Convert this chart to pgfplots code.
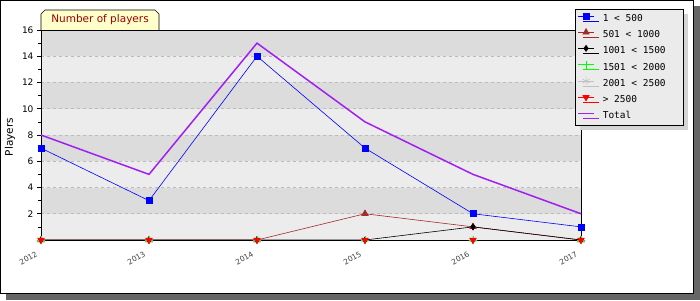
\documentclass[border=0pt]{standalone}
\usepackage{pgfplots}
\pgfplotsset{compat=1.18}
\usepackage{pgfplotstable}
\usepackage{fontspec}
\setmainfont{DejaVu Sans}
\newfontfamily\monofont{DejaVu Sans Mono}
\usetikzlibrary{shadows}

\definecolor{banddark}{HTML}{DCDCDC}
\definecolor{bandlight}{HTML}{ECECEC}
\definecolor{gridgray}{HTML}{BBBBBB}
\definecolor{tabyellow}{HTML}{FFFFCC}
\definecolor{titlered}{HTML}{990000}
\definecolor{sbrown}{HTML}{A52A2A}
\definecolor{sgreen}{HTML}{00FF00}
\definecolor{sgray}{HTML}{C0C0C0}
\definecolor{spurple}{HTML}{A020F0}
\definecolor{legbg}{HTML}{EBEBEB}
\definecolor{framesh}{HTML}{666666}
\definecolor{legsh}{HTML}{D4D4D4}

\pgfplotstableread{
year a b c d e f total
2012 7 0 0 0 0 0 8
2013 3 0 0 0 0 0 5
2014 14 0 0 0 0 0 15
2015 7 2 0 0 0 0 9
2016 2 1 1 0 0 0 5
2017 1 0 0 0 0 0 2
}\datatab

\begin{document}
\begin{tikzpicture}[x=1pt,y=1pt]
% outer frame with shadow
\fill[framesh] (6,0) rectangle (700,294);
\filldraw[fill=white,draw=black,line width=1pt] (0.5,7) rectangle (693,299.5);
% background bands of the plot area (41..581 x 60..270, 13.125 per unit)
\fill[bandlight] (41,60) rectangle (581,270);
\fill[banddark] (41,86.25) rectangle (581,112.5);
\fill[banddark] (41,138.75) rectangle (581,165);
\fill[banddark] (41,191.25) rectangle (581,217.5);
\fill[banddark] (41,243.75) rectangle (581,270);

\begin{axis}[
  at={(41pt,60pt)}, anchor=south west,
  scale only axis, width=540pt, height=210pt,
  xmin=2012, xmax=2017, ymin=0, ymax=16,
  xtick={2012,2013,2014,2015,2016,2017},
  ytick={2,4,...,16}, minor ytick={1,3,...,15},
  xtick pos=bottom, ytick pos=left,
  /pgf/number format/1000 sep={},
  /pgf/number format/assume math mode=true,
  xticklabel style={rotate=30, anchor=east, font=\fontsize{7.5}{9}\selectfont, text=black!75, yshift=-6pt, xshift=-5pt},
  yticklabel style={font=\fontsize{9}{10}\selectfont},
  ymajorgrids,
  major grid style={dashed, gridgray, line width=0.6pt},
  axis line style={black, line width=0.8pt},
  tick style={black, line width=0.6pt},
  tick align=outside, major tick length=4pt, minor tick length=3pt,
  ylabel={Players},
  ylabel style={at={(axis description cs:-0.0574,0.49)}, anchor=center, font=\fontsize{10.5}{12}\selectfont},
  clip mode=individual,
  legend image code/.code={
    \draw[#1, mark=none] (0pt,2.5pt) -- (16pt,2.5pt);
    \draw[#1] plot coordinates {(8pt,2.5pt)};
  },
  legend style={
    at={(0.98889,1.1)}, anchor=north west,
    fill=legbg, draw=black, line width=0.6pt,
    font=\monofont\fontsize{9.5}{11}\selectfont,
    row sep=3.6pt, inner xsep=2pt, inner ysep=3pt,
    /tikz/every odd column/.append style={column sep=6pt},
    drop shadow={shadow xshift=5pt, shadow yshift=-5pt, fill=legsh, opacity=1},
    legend cell align=left,
  },
]
\addplot[blue, line width=0.6pt, mark=square*, mark size=3pt, mark options={solid, fill=blue}] table[x=year,y=a] {\datatab};
\addlegendentry{\makebox[76pt][l]{1 < 500}}
\addplot[sbrown, line width=0.6pt, mark=triangle*, mark size=3.6pt, mark options={solid, fill=sbrown}] table[x=year,y=b] {\datatab};
\addlegendentry{501 < 1000}
\addplot[black, line width=0.6pt, mark=diamond*, mark size=3pt, mark options={solid, fill=black}] table[x=year,y=c] {\datatab};
\addlegendentry{1001 < 1500}
\addplot[sgreen, line width=0.6pt, mark=+, mark size=4pt, mark options={solid}] table[x=year,y=d] {\datatab};
\addlegendentry{1501 < 2000}
\addplot[sgray, line width=0.6pt, mark=asterisk, mark size=4pt, mark options={solid}] table[x=year,y=e] {\datatab};
\addlegendentry{2001 < 2500}
\addplot[red, line width=0.6pt, mark=triangle*, mark size=3.6pt, mark options={solid, fill=red, rotate=180}] table[x=year,y=f] {\datatab};
\addlegendentry{> 2500}
\addplot[spurple, line width=1.5pt, no marks] table[x=year,y=total] {\datatab};
\addlegendentry{Total}

% bottom axis line back over the zero-valued segments
\draw[black, line width=0.8pt] (axis cs:2012,0) -- (axis cs:2017,0);

% markers again on top of the axis line
\addplot[forget plot, only marks, sbrown, mark=triangle*, mark size=3.6pt, mark options={fill=sbrown}] table[x=year,y=b] {\datatab};
\addplot[forget plot, only marks, black, mark=diamond*, mark size=3pt, mark options={fill=black}] table[x=year,y=c] {\datatab};
\addplot[forget plot, only marks, sgreen, mark=+, mark size=4pt] table[x=year,y=d] {\datatab};
\addplot[forget plot, only marks, sgray, mark=asterisk, mark size=4pt] table[x=year,y=e] {\datatab};
\addplot[forget plot, only marks, red, mark=triangle*, mark size=3.6pt, mark options={fill=red, rotate=180}] table[x=year,y=f] {\datatab};
\end{axis}

% title tab
\filldraw[fill=tabyellow, draw=black, line width=0.6pt] (41,270) -- (41,286) -- (45,290) -- (155,290) -- (159,286) -- (159,270);
\node[text=titlered, font=\fontsize{10.5}{12}\selectfont] at (100,280) {Number of players};

\pgfresetboundingbox
\path (0,0) rectangle (700,300);
\end{tikzpicture}
\end{document}
